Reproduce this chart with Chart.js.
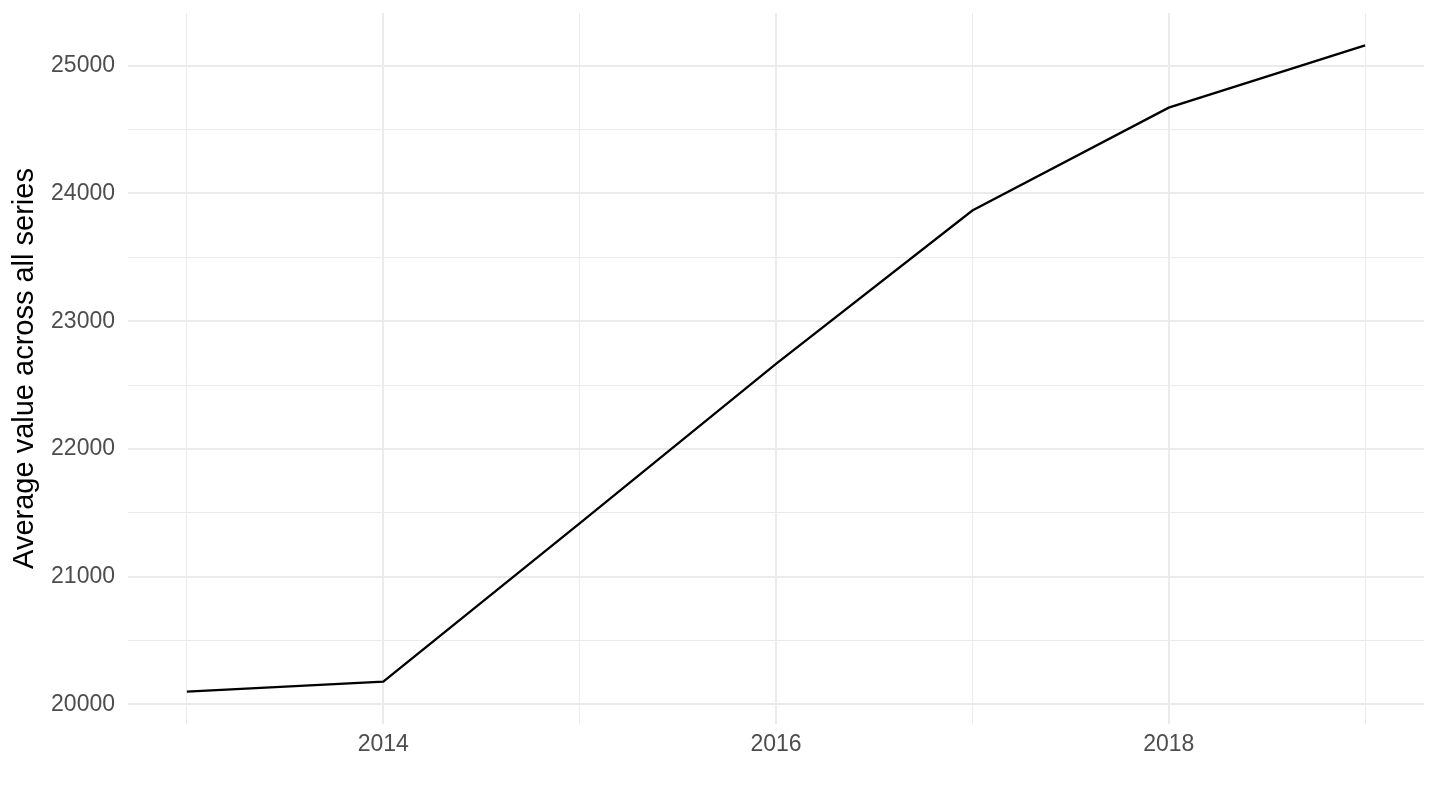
<!DOCTYPE html>
<html>
<head>
<meta charset="utf-8">
<script src="https://cdn.jsdelivr.net/npm/chart.js@4"></script>
<style>
  html, body { margin: 0; padding: 0; background: #fff; }
  #wrap { width: 1440px; height: 810px; }
</style>
</head>
<body>
<div id="wrap"><canvas id="avgChart" width="1440" height="810"></canvas></div>
<script>
// data
const years = [2013, 2014, 2015, 2016, 2017, 2018, 2019];
const avgValues = [20100, 20178, 21418, 22665, 23866, 24671, 25159];
const xTickLabels = [2014, 2016, 2018];
const yTickLabels = [20000, 21000, 22000, 23000, 24000, 25000];
const yAxisTitle = 'Average value across all series';

const GRID = '#EBEBEB';
const FONT = '"Liberation Sans", Arial, sans-serif';

// no extra room for first/last labels, the panel edges are fixed
function noLabelPadding(axis) {
    axis.paddingTop = 0; axis.paddingBottom = 0;
    axis.paddingLeft = 0; axis.paddingRight = 0;
}

const ctx = document.getElementById('avgChart').getContext('2d');
new Chart(ctx, {
    type: 'line',
    data: {
        datasets: [{
            data: years.map((y, i) => ({ x: y, y: avgValues[i] })),
            borderColor: '#000000',
            borderWidth: 2.3,
            pointRadius: 0,
            tension: 0,
            fill: false
        }]
    },
    options: {
        responsive: false,
        animation: false,
        layout: { padding: { top: 13, right: 16, left: 0, bottom: 0 } },
        plugins: { legend: { display: false }, tooltip: { enabled: false } },
        scales: {
            x: {
                type: 'linear',
                min: 2012.7,
                max: 2019.3,
                afterBuildTicks: axis => { axis.ticks = years.map(v => ({ value: v })); },
                afterFit: axis => { axis.height = 86; noLabelPadding(axis); },
                border: { display: false },
                grid: {
                    drawTicks: false,
                    color: GRID,
                    lineWidth: c => xTickLabels.includes(c.tick.value) ? 2 : 1
                },
                ticks: {
                    padding: 7,
                    color: '#4D4D4D',
                    font: { family: FONT, size: 23 },
                    autoSkip: false,
                    maxRotation: 0,
                    callback: v => xTickLabels.includes(v) ? String(v) : ''
                }
            },
            y: {
                type: 'linear',
                min: 19847,
                max: 25412,
                afterBuildTicks: axis => {
                    const t = [];
                    for (let v = 20000; v <= 25000; v += 500) t.push({ value: v });
                    axis.ticks = t;
                },
                afterFit: axis => { axis.width = 128; noLabelPadding(axis); },
                border: { display: false },
                grid: {
                    drawTicks: false,
                    color: GRID,
                    lineWidth: c => yTickLabels.includes(c.tick.value) ? 2 : 1
                },
                ticks: {
                    padding: 13,
                    color: '#4D4D4D',
                    font: { family: FONT, size: 23 },
                    autoSkip: false,
                    callback: v => yTickLabels.includes(v) ? String(v) : ''
                },
                title: {
                    display: true,
                    text: yAxisTitle,
                    color: '#000000',
                    font: { family: FONT, size: 29 },
                    padding: { top: 8, bottom: 0 }
                }
            }
        }
    }
});
</script>
</body>
</html>
